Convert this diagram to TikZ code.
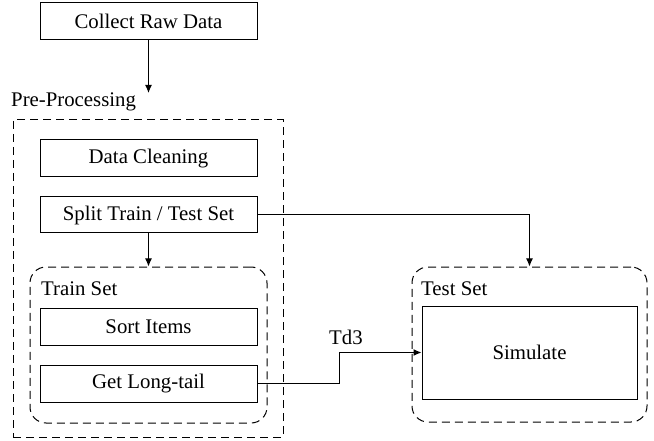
\documentclass[tikz,border=0pt]{standalone}
\usepackage{fontspec}
\setmainfont{Liberation Serif}
\usetikzlibrary{arrows.meta}
\begin{document}
\begin{tikzpicture}[x=1pt,y=-1pt,
  every node/.style={font=\fontsize{20.8}{24}\selectfont, inner sep=0pt},
  stepbox/.style={draw, line width=1pt, minimum width=217pt, minimum height=37pt},
  group/.style={draw, line width=1pt, dash pattern=on 8pt off 5pt},
  roundgroup/.style={group, rounded corners=16pt},
  flow/.style={line width=1pt, -{Latex[length=8pt,width=7pt]}},
  caption/.style={anchor=west}]
  \useasboundingbox (0,0) rectangle (654,441);

  % top step
  \node[stepbox] (collect) at (148.5,21.5) {Collect Raw Data};

  % pre-processing group
  \node[caption] (pplabel) at (11,102) {Pre-Processing};
  \node[group, minimum width=270pt, minimum height=317pt] (pre) at (148,278.5) {};
  \node[stepbox] (clean) at (148.5,158.5) {Data Cleaning};
  \node[stepbox, minimum height=36pt] (split) at (148.5,215) {Split Train / Test Set};

  % train set group
  \node[roundgroup, minimum width=237pt, minimum height=156pt] (train) at (148.5,345) {};
  \node[caption] (trainlabel) at (41,289) {Train Set};
  \node[stepbox] (sort) at (148.5,326.5) {Sort Items};
  \node[stepbox] (longtail) at (148.5,383.5) {Get Long-tail};

  % test set group
  \node[roundgroup, minimum width=235pt, minimum height=155pt] (test) at (529.5,344.5) {};
  \node[caption] (testlabel) at (421,289) {Test Set};
  \node[draw, line width=1pt, minimum width=215pt, minimum height=93pt] (sim) at (529.5,352.5) {Simulate};

  % connectors
  \coordinate (ppin) at (148.5,93);
  \draw[flow] (collect.south) -- (ppin);
  \draw[flow] (split.south) -- (train.north);
  \draw[flow] (split.east) -| (test.north);
  \draw[flow] (longtail.east) -- ++(82,0) coordinate (bend) |- (sim.west);
  \node (td) at (346,337) {Td3};
\end{tikzpicture}
\end{document}
